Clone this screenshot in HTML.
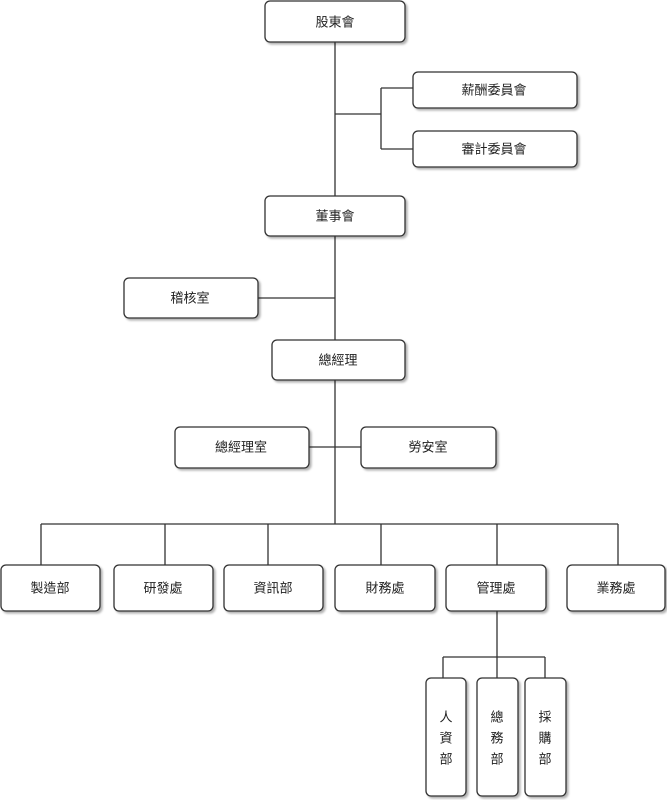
<!DOCTYPE html>
<html><head><meta charset="utf-8"><style>
html,body{margin:0;padding:0;background:#fff;}
svg text{font-family:"Liberation Sans","Noto Sans CJK TC",sans-serif;font-size:13px;fill:#222;text-anchor:middle;dominant-baseline:central;}
</style></head><body>
<svg width="667" height="800" viewBox="0 0 667 800" xmlns="http://www.w3.org/2000/svg">
<defs>
<filter id="sh" x="-10%" y="-10%" width="130%" height="140%"><feDropShadow dx="2" dy="2" stdDeviation="1" flood-color="#000" flood-opacity="0.3"/></filter>
</defs>
<g stroke="#333" stroke-width="1.3" fill="none">
<line x1="335" y1="42" x2="335" y2="524"/>
<line x1="335" y1="114" x2="381" y2="114"/>
<line x1="381" y1="88" x2="381" y2="149"/>
<line x1="381" y1="88" x2="413" y2="88"/>
<line x1="381" y1="149" x2="413" y2="149"/>
<line x1="258" y1="298" x2="335" y2="298"/>
<line x1="309" y1="447" x2="361" y2="447"/>
<line x1="41" y1="524" x2="618" y2="524"/>
<line x1="41" y1="524" x2="41" y2="565"/>
<line x1="165" y1="524" x2="165" y2="565"/>
<line x1="268" y1="524" x2="268" y2="565"/>
<line x1="381" y1="524" x2="381" y2="565"/>
<line x1="497" y1="524" x2="497" y2="565"/>
<line x1="618" y1="524" x2="618" y2="565"/>
<line x1="497" y1="611" x2="497" y2="678"/>
<line x1="443" y1="657" x2="545" y2="657"/>
<line x1="443" y1="657" x2="443" y2="678"/>
<line x1="545" y1="657" x2="545" y2="678"/>
</g>
<g fill="#fff" stroke="#333" stroke-width="1.3" filter="url(#sh)">
<rect x="265" y="1" width="140" height="41" rx="5"/>
<rect x="413" y="72" width="164" height="36" rx="5"/>
<rect x="413" y="131" width="164" height="36" rx="5"/>
<rect x="265" y="196" width="140" height="40" rx="5"/>
<rect x="124" y="278" width="134" height="40" rx="5"/>
<rect x="272" y="340" width="133" height="40" rx="5"/>
<rect x="175" y="427" width="134" height="41" rx="5"/>
<rect x="361" y="427" width="135" height="41" rx="5"/>
<rect x="1" y="565" width="99" height="46" rx="5"/>
<rect x="114" y="565" width="99" height="46" rx="5"/>
<rect x="224" y="565" width="99" height="46" rx="5"/>
<rect x="335" y="565" width="100" height="46" rx="5"/>
<rect x="446" y="565" width="100" height="46" rx="5"/>
<rect x="567" y="565" width="98" height="46" rx="5"/>
<rect x="426" y="678" width="40" height="118" rx="5"/>
<rect x="477" y="678" width="41" height="118" rx="5"/>
<rect x="525" y="678" width="41" height="118" rx="5"/>
</g>
<text x="335" y="22">股東會</text>
<text x="494" y="90">薪酬委員會</text>
<text x="494" y="149">審計委員會</text>
<text x="335" y="216">董事會</text>
<text x="190" y="298">稽核室</text>
<text x="338" y="360">總經理</text>
<text x="241" y="447">總經理室</text>
<text x="428" y="447">勞安室</text>
<text x="50" y="588">製造部</text>
<text x="163" y="588">研發處</text>
<text x="273" y="588">資訊部</text>
<text x="385" y="588">財務處</text>
<text x="496" y="588">管理處</text>
<text x="616" y="588">業務處</text>
<text x="446" y="717">人</text><text x="446" y="738">資</text><text x="446" y="759">部</text>
<text x="497" y="717">總</text><text x="497" y="738">務</text><text x="497" y="759">部</text>
<text x="545" y="717">採</text><text x="545" y="738">購</text><text x="545" y="759">部</text>
</svg>
</body></html>
